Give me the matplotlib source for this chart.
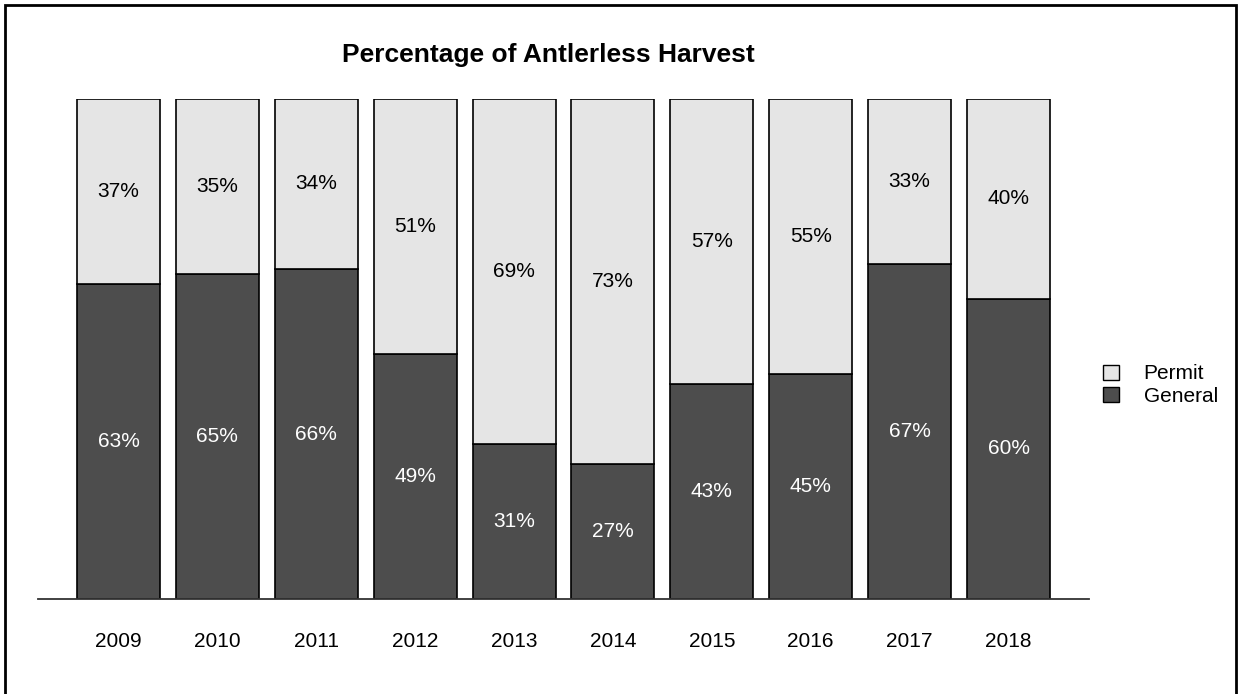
import matplotlib
matplotlib.use("Agg")
import matplotlib.pyplot as plt
import numpy as np
from matplotlib.patches import Rectangle, Patch

plt.rcParams['font.family'] = ['Liberation Sans', 'DejaVu Sans']

years = ['2009', '2010', '2011', '2012', '2013', '2014', '2015', '2016', '2017', '2018']
general = [63, 65, 66, 49, 31, 27, 43, 45, 67, 60]
permit = [37, 35, 34, 51, 69, 73, 57, 55, 33, 40]

general_color = '#4d4d4d'
permit_color = '#e5e5e5'

fig = plt.figure(figsize=(12.41, 6.94), dpi=100)
W, H = 1241, 694
ax = fig.add_axes([38 / W, (H - 599) / H, (1089 - 38) / W, 500 / H])

x = np.arange(len(years))
g = np.array(general) / 100
p = np.array(permit) / 100
width = 0.84

ax.bar(x, g, width, color=general_color, edgecolor='black', linewidth=1.2, label='General')
ax.bar(x, p, width, bottom=g, color=permit_color, edgecolor='black', linewidth=1.2, label='Permit')

for i in range(len(years)):
    ax.text(x[i], g[i] / 2, f'{general[i]}%', ha='center', va='center',
            color='white', fontsize=15)
    ax.text(x[i], g[i] + p[i] / 2, f'{permit[i]}%', ha='center', va='center',
            color='black', fontsize=15)

ax.set_xlim(-0.814, 9.814)
ax.set_ylim(0, 1)
ax.set_xticks(x)
ax.set_xticklabels(years, fontsize=15)
ax.tick_params(axis='x', length=0, pad=24)
ax.set_yticks([])
for s in ['top', 'right', 'left']:
    ax.spines[s].set_visible(False)
ax.spines['bottom'].set_color('#333333')
ax.spines['bottom'].set_linewidth(1.3)

fig.text(548 / W, 1 - 55 / H, 'Percentage of Antlerless Harvest', ha='center', va='center',
         fontsize=19, fontweight='bold')

handles = [Patch(facecolor=permit_color, edgecolor='black', label='Permit'),
           Patch(facecolor=general_color, edgecolor='black', label='General')]
fig.legend(handles=handles, loc='center left', bbox_to_anchor=(1103 / W, 1 - 385 / H),
           frameon=False, fontsize=15, handlelength=0.75, handleheight=0.75,
           handletextpad=1.2, labelspacing=0.15, borderpad=0, borderaxespad=0)

fig.patches.append(Rectangle((5 / W, -0.05), (1236 - 5) / W, 1 - 5 / H + 0.05,
                             transform=fig.transFigure, fill=False,
                             edgecolor='black', linewidth=2, clip_on=False))

fig.savefig('out.png', dpi=100)
